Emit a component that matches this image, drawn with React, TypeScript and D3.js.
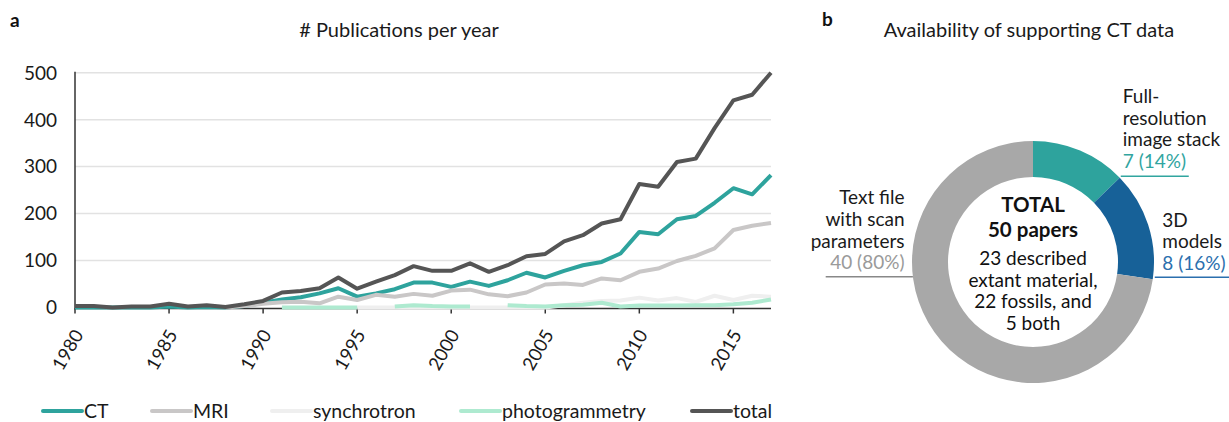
import React from 'react';
import * as d3 from 'd3';

// 年份 (x 轴)
const years = d3.range(1980, 2018);

// 各系列每年的论文数量
const ctValues = [0, 0, 0, 0, 0, 2, 0, 1, 0, 3, 10, 17, 22, 30, 41, 23, 30, 39, 53, 53, 44, 55, 46, 58, 74, 64, 78, 90, 97, 115, 161, 156, 188, 195, 223, 254, 241, 282];
const mriValues = [null, null, null, null, null, null, null, null, 0, 3, 8, 11, 12, 9, 23, 16, 27, 23, 29, 25, 36, 38, 28, 24, 32, 49, 51, 48, 62, 58, 76, 83, 99, 110, 126, 165, 174, 180];
const synchrotronValues = [null, null, null, null, null, null, null, null, null, null, null, null, null, null, null, 0, 0, 0, 0, 0, 0, 0, 0, 0, 0, 0, 5, 10, 14, 15, 21, 15, 20, 12, 25, 16, 25, 23];
const photogrammetryValues = [null, null, null, null, null, null, null, null, null, null, null, 0, 0, 0, 0, 0, null, 2, 5, 3, 2, 2, null, 5, 3, 2, 5, 6, 10, 2, 4, 4, 4, 5, 5, 7, 10, 17];
const totalValues = [3, 3, 0, 2, 2, 8, 2, 5, 1, 7, 14, 32, 35, 41, 64, 40, 55, 69, 88, 78, 78, 94, 76, 90, 109, 114, 141, 154, 179, 188, 263, 257, 310, 317, 382, 441, 453, 500];

const seriesNames = ['CT', 'MRI', 'synchrotron', 'photogrammetry', 'total'];
const seriesValues = [ctValues, mriValues, synchrotronValues, photogrammetryValues, totalValues];
const seriesColors = ['#2ea39d', '#c9c7c7', '#efefef', '#aeead0', '#555555'];

const yTicks = [0, 100, 200, 300, 400, 500];
const xTicks = [1980, 1985, 1990, 1995, 2000, 2005, 2010, 2015];

// 环形图数据
const donutValues = [7, 8, 40];
const donutLabels = [['Full-', 'resolution', 'image stack'], ['3D', 'models'], ['Text file', 'with scan', 'parameters']];
const donutColors = ['#2ea39d', '#176198', '#a8a8a8'];
const donutTextColors = ['#31a59f', '#2b6fae', '#9a9a9a'];
const totalPapers = 50;
const centerTitle = ['TOTAL', `${totalPapers} papers`];
const centerText = ['23 described', 'extant material,', '22 fossils, and', '5 both'];

const font = 'Lato, "Open Sans", sans-serif';

const App: React.FC = () => {
  const width = 1229;
  const height = 422;
  // 折线图区域
  const plot = { left: 75, right: 771, top: 72.7, bottom: 307.5 };

  const xScale = d3.scaleLinear().domain([1980, 2017]).range([plot.left, plot.right]);
  const yScale = d3.scaleLinear().domain([0, 500]).range([plot.bottom, plot.top]);

  const linePath = d3
    .line<number | null>()
    .defined((d) => d != null)
    .x((_, i) => xScale(years[i]))
    .y((d) => yScale(d as number));

  // 环形图
  const cx = 1033;
  const cy = 262;
  const outerR = 121;
  const innerR = 85;
  const pie = d3.pie<number>().sort(null).value((d) => d);
  const arcs = pie(donutValues);
  const arcGen = d3.arc<d3.PieArcDatum<number>>().innerRadius(innerR).outerRadius(outerR);
  const onOuter = (a: number) => [cx + outerR * Math.sin(a), cy - outerR * Math.cos(a)];

  // 标注线的起点: 前两段取扇区末端, 灰色取左侧
  const pTeal = onOuter(arcs[0].endAngle);
  const pBlue = onOuter(arcs[1].endAngle);
  const pGray = onOuter((263 * Math.PI) / 180);
  const lineH = 21.7;
  const pct = (v: number) => `${v} (${Math.round((v / totalPapers) * 100)}%)`;

  const legendX = [43, 152, 272, 461, 692];

  return (
    <svg width={width} height={height} style={{ position: 'absolute', left: 0, top: 0 }} fontFamily={font}>
      <rect width={width} height={height} fill="#fff" />
      {/* 面板标签 */}
      <text x={10} y={27} fontSize={19} fontWeight="bold" fill="#111">a</text>
      <text x={822} y={26} fontSize={19} fontWeight="bold" fill="#111">b</text>
      <text x={399} y={37} fontSize={20} textAnchor="middle" fill="#1a1a1a"># Publications per year</text>
      <text x={1029} y={37} fontSize={20} textAnchor="middle" fill="#1a1a1a">Availability of supporting CT data</text>

      {/* 网格线和 y 轴刻度 */}
      {yTicks.map((t) => (
        <g key={t}>
          {t > 0 && (
            <line x1={plot.left} x2={plot.right} y1={yScale(t)} y2={yScale(t)} stroke="#e2e2e2" strokeWidth={1.5} />
          )}
          <text x={plot.left - 18} y={yScale(t)} dy="0.36em" fontSize={19} textAnchor="end" fill="#1a1a1a">
            {t}
          </text>
        </g>
      ))}

      {/* 坐标轴 (在折线下面) */}
      <line x1={plot.left} x2={plot.left} y1={plot.top - 1} y2={plot.bottom + 2} stroke="#333" strokeWidth={1.5} />
      <line x1={plot.left} x2={plot.right} y1={plot.bottom + 1} y2={plot.bottom + 1} stroke="#333" strokeWidth={1.5} />
      {xTicks.map((t) => (
        <g key={t}>
          <line x1={xScale(t)} x2={xScale(t)} y1={plot.bottom + 1} y2={plot.bottom + 6} stroke="#333" strokeWidth={1.5} />
          <text
            transform={`translate(${xScale(t) + 9},${plot.bottom + 27}) rotate(-60)`}
            fontSize={18.5}
            textAnchor="end"
            fill="#1a1a1a"
          >
            {t}
          </text>
        </g>
      ))}

      {/* 折线 */}
      {seriesValues.map((vals, i) => (
        <path
          key={seriesNames[i]}
          d={linePath(vals) ?? ''}
          fill="none"
          stroke={seriesColors[i]}
          strokeWidth={4}
          strokeLinejoin="round"
        />
      ))}

      {/* 图例 */}
      {seriesNames.map((name, i) => (
        <g key={name} transform={`translate(${legendX[i]},411)`}>
          <line x1={0} x2={39} y1={0} y2={0} stroke={seriesColors[i]} strokeWidth={4} strokeLinecap="round" />
          <text x={41} y={6.5} fontSize={19.5} fill="#1a1a1a">{name}</text>
        </g>
      ))}

      {/* 环形图 */}
      <g transform={`translate(${cx},${cy})`}>
        {arcs.map((a, i) => (
          <path key={i} d={arcGen(a) ?? ''} fill={donutColors[i]} />
        ))}
      </g>
      {centerTitle.map((s, i) => (
        <text key={s} x={cx} y={211.7 + i * 25.6} fontSize={20.5} fontWeight="bold" textAnchor="middle" fill="#111">
          {s}
        </text>
      ))}
      {centerText.map((s, i) => (
        <text key={s} x={cx} y={265 + i * lineH} fontSize={19} textAnchor="middle" fill="#111">
          {s}
        </text>
      ))}

      {/* 标注 */}
      <line x1={pTeal[0] + 1} x2={pTeal[0] + 69} y1={pTeal[1] - 1.5} y2={pTeal[1] - 1.5} stroke={donutTextColors[0]} strokeWidth={1.5} />
      {donutLabels[0].map((s, i) => (
        <text key={s} x={pTeal[0] + 3} y={pTeal[1] - 9.5 - (donutLabels[0].length - i) * lineH} fontSize={19} fill="#1a1a1a">{s}</text>
      ))}
      <text x={pTeal[0] + 3} y={pTeal[1] - 9.5} fontSize={19} fill={donutTextColors[0]}>
        {pct(donutValues[0])}
      </text>

      <line x1={pBlue[0] + 2} x2={width} y1={pBlue[1] - 2} y2={pBlue[1] - 2} stroke={donutTextColors[1]} strokeWidth={1.5} />
      {donutLabels[1].map((s, i) => (
        <text key={s} x={pBlue[0] + 9.5} y={pBlue[1] - 9.3 - (donutLabels[1].length - i) * lineH} fontSize={19} fill="#1a1a1a">{s}</text>
      ))}
      <text x={pBlue[0] + 9.5} y={pBlue[1] - 9.3} fontSize={19} fill={donutTextColors[1]}>
        {pct(donutValues[1])}
      </text>

      <line x1={825.7} x2={pGray[0]} y1={pGray[1]} y2={pGray[1]} stroke="#888" strokeWidth={1.5} />
      {donutLabels[2].map((s, i) => (
        <text key={s} x={904.5} y={pGray[1] - 7.3 - (donutLabels[2].length - i) * lineH} fontSize={19} textAnchor="end" fill="#1a1a1a">{s}</text>
      ))}
      <text x={904.5} y={pGray[1] - 7.3} fontSize={19} textAnchor="end" fill={donutTextColors[2]}>
        {pct(donutValues[2])}
      </text>
    </svg>
  );
};

export default App;
